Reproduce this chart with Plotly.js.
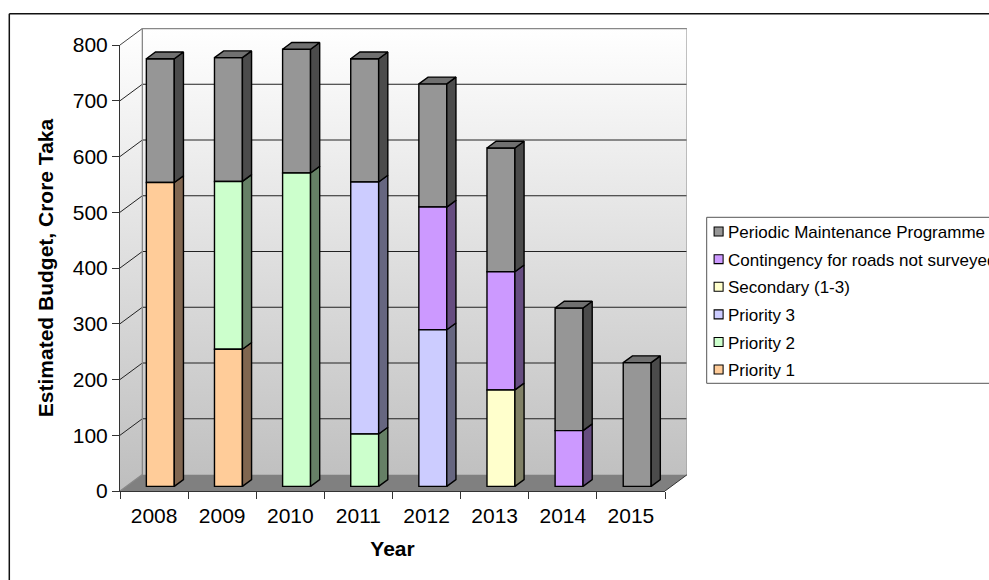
<!DOCTYPE html>
<html>
<head>
<meta charset="utf-8">
<script src="https://cdn.plot.ly/plotly-3.0.1.min.js"></script>
<style>
  html, body { margin: 0; padding: 0; background: #fff; }
  #chart { width: 989px; height: 580px; }
</style>
</head>
<body>
<div id="chart"></div>
<script>
// Budget by programme and year (crore taka)
const years       = ['2008', '2009', '2010', '2011', '2012', '2013', '2014', '2015'];
const priority1   = [545, 246, null, null, null, null, null, null];
const priority2   = [null, 301, 562, 94, null, null, null, null];
const priority3   = [null, null, null, 452, 281, null, null, null];
const secondary   = [null, null, null, null, null, 173, null, null];
const contingency = [null, null, null, null, 220, 212, 100, null];
const periodic    = [222, 222, 222, 221, 221, 222, 220, 222];

// Stacking order, bottom to top
const stackNames = ['Priority 1', 'Priority 2', 'Priority 3', 'Secondary (1-3)',
                    'Contingency for roads not surveyed', 'Periodic Maintenance Programme'];
const stackValues = [priority1, priority2, priority3, secondary, contingency, periodic];
const frontColors = ['#FFCC99', '#CCFFCC', '#CCCCFF', '#FFFFCC', '#CC99FF', '#969696'];
const sideColors  = ['#806650', '#668066', '#666680', '#808066', '#664D80', '#4B4B4B'];
const capColor = '#707070';

// Oblique projection: a unit of depth moves a point this far along each axis
const depthX = 0.328, depthY = 29.6;
const barNear = 0.28, barFar = 0.69, barWidth = 0.41;
const project = (cat, val, depth) => [cat + depth * depthX, val + depth * depthY];

const xMin = -0.5, xMax = years.length - 0.5, yMax = 800;
const gridVals = [0, 100, 200, 300, 400, 500, 600, 700, 800];

// Frame of the whole drawing in pixels; the visible axes take only the front part of it
const plotLeft = 120, plotRight = 687, plotTop = 28, plotBottom = 491;
const frontRight = 665, frontTop = 45;
const plotW = plotRight - plotLeft, plotH = plotBottom - plotTop;
const frontW = frontRight - plotLeft, frontH = plotBottom - frontTop;
const bigRangeX = [xMin, xMin + (xMax - xMin) * plotW / frontW];
const bigRangeY = [0, yMax * plotH / frontH];
const paperX = px => (px - plotLeft) / plotW;
const paperY = py => (plotBottom - py) / plotH;

function polyTrace(points, extra) {
  return Object.assign({
    type: 'scatter', mode: 'lines', x: points.map(p => p[0]), y: points.map(p => p[1]),
    fill: 'toself', showlegend: false, hoverinfo: 'skip', line: { width: 0 }
  }, extra);
}
function lineTrace(points, color, width) {
  return {
    type: 'scatter', mode: 'lines', x: points.map(p => p[0]), y: points.map(p => p[1]),
    showlegend: false, hoverinfo: 'skip', line: { color: color, width: width }
  };
}
const wallGradient = {
  type: 'vertical', start: 0, stop: yMax + depthY,
  colorscale: [[0, '#BEBEBE'], [1, '#FFFFFF']]
};

const traces = [];

// Walls and floor go on the lower subplot
traces.push(polyTrace([project(xMin, 0, 0), project(xMin, 0, 1), project(xMin, yMax, 1), project(xMin, yMax, 0), project(xMin, 0, 0)],
  { fillgradient: wallGradient, fillcolor: '#DDD' }));
traces.push(polyTrace([project(xMin, 0, 1), project(xMax, 0, 1), project(xMax, yMax, 1), project(xMin, yMax, 1), project(xMin, 0, 1)],
  { fillgradient: wallGradient, fillcolor: '#DDD' }));
traces.push(polyTrace([project(xMin, 0, 0), project(xMax, 0, 0), project(xMax, 0, 1), project(xMin, 0, 1), project(xMin, 0, 0)],
  { fillcolor: '#808080' }));

const gridPts = [];
gridVals.slice(1, -1).forEach(v => {
  gridPts.push(project(xMin, v, 0), project(xMin, v, 1), project(xMax, v, 1), [null, null]);
});
traces.push(lineTrace(gridPts, '#222', 1));
traces.push(lineTrace([project(xMin, yMax, 0), project(xMin, yMax, 1)], '#444', 1));
traces.push(lineTrace([project(xMin, 0, 0), project(xMin, 0, 1), project(xMin, yMax, 1), project(xMax, yMax, 1)], '#888', 1.3));
traces.push(lineTrace([project(xMax, yMax, 1), project(xMax, 0, 1)], '#A0A0A0', 2));
traces.push(lineTrace([project(xMax, 0, 0), project(xMax, 0, 1)], '#333', 1));

// Running totals for the stacks
const running = years.map(() => 0);
const bases = stackValues.map(vals => vals.map((v, i) => {
  const b = running[i];
  if (v !== null) running[i] += v;
  return b;
}));

// Front faces are real bars on the overlaid subplot; legend order is top of stack first
const nearLift = barNear * depthY, nearShift = barNear * depthX;
for (let s = stackValues.length - 1; s >= 0; s--) {
  traces.push({
    type: 'bar', name: stackNames[s], legendgroup: stackNames[s],
    x: years.map((_, i) => i + nearShift), y: stackValues[s],
    base: bases[s].map(b => b + nearLift), width: barWidth,
    xaxis: 'x2', yaxis: 'y2',
    marker: { color: frontColors[s], line: { color: '#000', width: 1.4 } },
    hoverinfo: 'name+y'
  });
}

// Side faces of each segment
stackValues.forEach((vals, s) => {
  const pts = [];
  vals.forEach((v, i) => {
    if (v === null) return;
    const xr = i + barWidth / 2, b = bases[s][i], t = b + v;
    pts.push(project(xr, b, barNear), project(xr, b, barFar), project(xr, t, barFar), project(xr, t, barNear), project(xr, b, barNear), [null, null]);
  });
  traces.push(polyTrace(pts, { xaxis: 'x2', yaxis: 'y2', fillcolor: sideColors[s], line: { color: '#000', width: 1.4 } }));
});

// Caps on the top of every stack
const capPts = [];
years.forEach((_, i) => {
  const xl = i - barWidth / 2, xr = i + barWidth / 2, t = running[i];
  capPts.push(project(xl, t, barNear), project(xl, t, barFar), project(xr, t, barFar), project(xr, t, barNear), project(xl, t, barNear), [null, null]);
});
traces.push(polyTrace(capPts, { xaxis: 'x2', yaxis: 'y2', fillcolor: capColor, line: { color: '#000', width: 1.4 } }));

// Invisible trace that brings up the visible axes
traces.push({ type: 'scatter', mode: 'none', x: [0], y: [0], xaxis: 'x3', yaxis: 'y3', showlegend: false, hoverinfo: 'skip' });

const textFont = { family: 'Liberation Sans, Arial, sans-serif', color: '#000' };
const catVals = years.map((_, i) => i);

const layout = {
  width: 989, height: 580, autosize: false,
  paper_bgcolor: '#FFFFFF', plot_bgcolor: 'rgba(0,0,0,0)',
  margin: { l: plotLeft, r: 989 - plotRight, t: plotTop, b: 580 - plotBottom, pad: 0, autoexpand: false },
  barmode: 'overlay',
  xaxis: { domain: [0, 1], range: bigRangeX, visible: false },
  yaxis: { domain: [0, 1], range: bigRangeY, visible: false },
  xaxis2: { overlaying: 'x', range: bigRangeX, visible: false, anchor: 'y2' },
  yaxis2: { overlaying: 'y', range: bigRangeY, visible: false, anchor: 'x2' },
  xaxis3: {
    domain: [0, frontW / plotW], anchor: 'y3', range: [xMin, xMax],
    tickmode: 'array', tickvals: catVals, ticktext: years,
    ticks: 'outside', ticklen: 6, tickcolor: 'rgba(0,0,0,0)',
    minor: { tickmode: 'array', tickvals: catVals.map(i => i - 0.5).concat([xMax]), ticks: 'outside', ticklen: 7, tickwidth: 1, tickcolor: '#333', showgrid: false },
    showgrid: false, zeroline: false, showline: true, linecolor: '#333', linewidth: 1,
    tickfont: Object.assign({ size: 21 }, textFont),
    title: { text: '<b>Year</b>', font: Object.assign({ size: 21 }, textFont), standoff: 15 }
  },
  yaxis3: {
    domain: [0, frontH / plotH], anchor: 'x3', range: [0, yMax],
    tickmode: 'array', tickvals: gridVals, ticks: 'outside', ticklen: 7,
    tickwidth: 1, tickcolor: '#333', showgrid: false, zeroline: false,
    showline: true, linecolor: '#333', linewidth: 1,
    tickfont: Object.assign({ size: 21 }, textFont),
    title: { text: '<b>Estimated Budget, Crore Taka</b>', font: Object.assign({ size: 21 }, textFont), standoff: 13 }
  },
  legend: {
    x: paperX(703), xanchor: 'left', y: paperY(214), yanchor: 'top',
    bgcolor: 'rgba(0,0,0,0)', borderwidth: 0, tracegroupgap: 2.5, traceorder: 'grouped',
    indentation: -15,
    font: Object.assign({ size: 17 }, textFont)
  },
  shapes: [
    // outer chart frame, open at the right and bottom edges
    { type: 'line', xref: 'paper', yref: 'paper', x0: paperX(9.3), x1: paperX(1000), y0: paperY(13.7), y1: paperY(13.7), line: { color: '#111', width: 1.5 } },
    { type: 'line', xref: 'paper', yref: 'paper', x0: paperX(9.3), x1: paperX(9.3), y0: paperY(590), y1: paperY(13.7), line: { color: '#111', width: 1.5 } },
    // legend box
    { type: 'rect', xref: 'paper', yref: 'paper', x0: paperX(706.7), x1: paperX(1000), y0: paperY(217.3), y1: paperY(383.3), line: { color: '#555', width: 1 }, fillcolor: 'rgba(0,0,0,0)' }
  ],
  showlegend: true
};

Plotly.newPlot('chart', traces, layout, { staticPlot: true, displayModeBar: false }).then(gd => {
  // smaller legend keys, closer to their labels
  gd.querySelectorAll('.legend .traces .layers').forEach(g => {
    g.setAttribute('transform', 'translate(0.6,0) scale(0.75)');
  });
});
</script>
</body>
</html>
